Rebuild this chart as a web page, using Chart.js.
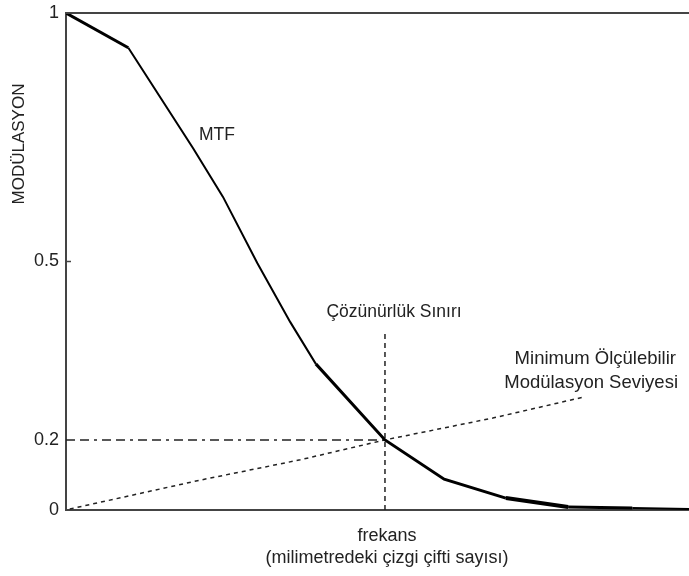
<!DOCTYPE html>
<html>
<head>
<meta charset="utf-8">
<script src="https://cdn.jsdelivr.net/npm/chart.js@4.4.1/dist/chart.umd.min.js"></script>
<style>
  html, body { margin: 0; padding: 0; background: #ffffff; }
  #c { display: block; }
</style>
</head>
<body>
<canvas id="c" width="689" height="576"></canvas>
<script>
// ---- data (schematic units; y in visual fraction of axis) ----
const mtfFreq = [0, 1.0, 2.04, 2.52, 3.07, 3.6, 4.01, 5.12, 6.07, 7.06, 8.06, 9.09, 10];
const mtfMod  = [1, 0.93, 0.728, 0.63, 0.497, 0.378, 0.294, 0.141, 0.062, 0.024, 0.006, 0.004, 0.002];
const mtfWidths = [3, 2, 2, 2, 2, 2, 3, 3, 3, 4, 3, 2];

const minFreq = [0.06, 2.15, 3.76, 5.12, 6.85, 8.3];
const minMod  = [0.002, 0.06, 0.101, 0.141, 0.185, 0.227];

const limitFreq = [5.12, 5.12];
const limitMod  = [0, 0.356];

const levelFreq = [0, 5.12];
const levelMod  = [0.141, 0.141];

const yTickPos    = [0, 0.141, 0.5, 1];
const yTickLabels = ['0', '0.2', '0.5', '1'];

const yTitle = 'MODÜLASYON';
const xTitle = ['frekans', '(milimetredeki çizgi çifti sayısı)'];
const labelMTF = 'MTF';
const labelLimit = 'Çözünürlük Sınırı';
const labelMin = ['Minimum Ölçülebilir', 'Modülasyon Seviyesi'];

const FONT = '"Liberation Sans", Arial, sans-serif';
const toPts = (xs, ys) => xs.map((x, i) => ({ x: x, y: ys[i] }));

const textPlugin = {
  id: 'texts',
  afterDraw(chart) {
    const ctx = chart.ctx;
    const a = chart.chartArea;
    const ys = chart.scales.y;
    ctx.save();
    // top border
    ctx.strokeStyle = '#444444';
    ctx.lineWidth = 2;
    ctx.beginPath();
    ctx.moveTo(a.left - 1, a.top);
    ctx.lineTo(a.right, a.top);
    ctx.stroke();
    // inner tick at 0.5
    const y5 = ys.getPixelForValue(0.5);
    ctx.lineWidth = 1.5;
    ctx.beginPath();
    ctx.moveTo(a.left, y5);
    ctx.lineTo(a.left + 5, y5);
    ctx.stroke();

    ctx.fillStyle = '#222222';
    ctx.font = '17.5px ' + FONT;
    ctx.textBaseline = 'middle';
    // MTF label
    ctx.textAlign = 'left';
    ctx.fillText(labelMTF, 199, 135);
    // resolution limit label
    ctx.textAlign = 'center';
    ctx.fillText(labelLimit, 394, 312);
    // minimum level label
    ctx.font = '18.5px ' + FONT;
    ctx.textAlign = 'right';
    ctx.fillText(labelMin[0], 676, 359);
    ctx.fillText(labelMin[1], 678, 383);
    // x title
    ctx.font = '18px ' + FONT;
    ctx.textAlign = 'center';
    ctx.fillText(xTitle[0], 387, 536);
    ctx.fillText(xTitle[1], 387, 558);
    // y title
    ctx.save();
    ctx.translate(19, 144);
    ctx.rotate(-Math.PI / 2);
    ctx.font = '17px ' + FONT;
    ctx.textAlign = 'center';
    ctx.fillText(yTitle, 0, 0);
    ctx.restore();
    ctx.restore();
  }
};

new Chart(document.getElementById('c'), {
  type: 'line',
  data: {
    datasets: [
      {
        label: 'MTF',
        data: toPts(mtfFreq, mtfMod),
        borderColor: '#000000',
        borderWidth: 2,
        pointRadius: 0,
        tension: 0,
        segment: { borderWidth: c => mtfWidths[c.p0DataIndex] }
      },
      {
        label: 'min',
        data: toPts(minFreq, minMod),
        borderColor: '#222222',
        borderWidth: 1.5,
        borderDash: [4, 4],
        pointRadius: 0,
        tension: 0
      },
      {
        label: 'limit',
        data: toPts(limitFreq, limitMod),
        borderColor: '#222222',
        borderWidth: 1.5,
        borderDash: [5, 4],
        pointRadius: 0
      },
      {
        label: 'level',
        data: toPts(levelFreq, levelMod),
        borderColor: '#222222',
        borderWidth: 1.5,
        borderDash: [9, 5, 9, 5, 3, 5],
        pointRadius: 0
      }
    ]
  },
  options: {
    responsive: false,
    animation: false,
    layout: { padding: { top: 13, right: 0, left: 0, bottom: 0 } },
    plugins: { legend: { display: false }, tooltip: { enabled: false } },
    scales: {
      x: {
        type: 'linear',
        min: 0, max: 10,
        grid: { display: false, drawTicks: false },
        border: { display: true, color: '#444444', width: 2 },
        ticks: { display: false },
        afterFit: s => { s.height = 66; s.paddingLeft = 0; s.paddingRight = 0; }
      },
      y: {
        type: 'linear',
        min: 0, max: 1,
        grid: { display: false, drawTicks: false },
        border: { display: true, color: '#444444', width: 2 },
        afterBuildTicks: s => { s.ticks = yTickPos.map(v => ({ value: v })); },
        afterFit: s => { s.width = 66; s.paddingTop = 0; s.paddingBottom = 0; },
        ticks: {
          padding: 7,
          color: '#222222',
          font: { family: FONT, size: 18 },
          callback: (v, i) => yTickLabels[i]
        }
      }
    }
  },
  plugins: [textPlugin]
});
</script>
</body>
</html>
